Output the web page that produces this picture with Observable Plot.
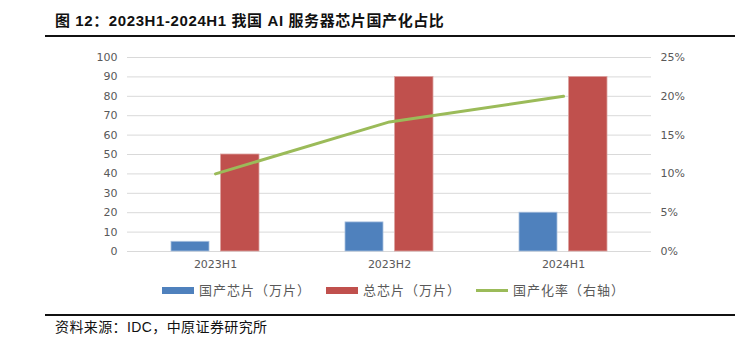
<!DOCTYPE html>
<html><head><meta charset="utf-8">
<script src="https://cdn.jsdelivr.net/npm/d3@7"></script>
<script src="https://cdn.jsdelivr.net/npm/@observablehq/plot@0.6"></script>
<style>
body{margin:0;background:#fff;}
#wrap{position:relative;width:751px;height:347px;overflow:hidden;font-family:"Liberation Sans","Noto Sans CJK SC",sans-serif;background:#fff;}
#title{position:absolute;left:55px;top:11px;font-size:15px;line-height:20px;font-weight:bold;color:#111;white-space:nowrap;letter-spacing:0.6px;}
.hr{position:absolute;left:45px;width:690px;height:2px;background:#111;}
#chart{position:absolute;left:0;top:40px;}
#legend{position:absolute;left:162px;top:281px;display:flex;gap:15px;align-items:center;font-family:"Noto Sans CJK SC",sans-serif;font-size:13px;line-height:18px;color:#595959;white-space:nowrap;letter-spacing:1px;}
.item{display:flex;align-items:center;gap:5px;}
#source{position:absolute;left:55px;top:318px;font-size:14px;line-height:18px;color:#111;white-space:nowrap;letter-spacing:0.4px;}
</style></head><body>
<div id="wrap">
  <div id="title">图 12：2023H1-2024H1 我国 AI 服务器芯片国产化占比</div>
  <div class="hr" style="top:35px"></div>
  <div id="chart"></div>
  <div id="legend"></div>
  <div class="hr" style="top:314px"></div>
  <div id="source">资料来源：IDC，中原证券研究所</div>
</div>
<script>
const categories = ["2023H1", "2023H2", "2024H1"];
const domestic = [5, 15, 20];        // 国产芯片（万片）
const total = [50, 90, 90];          // 总芯片（万片）
const ratio = [10, 16.7, 20];        // 国产化率（%）右轴
const leftTicks = [0, 10, 20, 30, 40, 50, 60, 70, 80, 90, 100];
const rightTicks = [0, 5, 10, 15, 20, 25];
const seriesNames = ["国产芯片（万片）", "总芯片（万片）", "国产化率（右轴）"];
const seriesColors = ["#4f81bd", "#c0504d", "#9bbb59"];

const rightMax = 25, leftMax = 100, k = leftMax / rightMax;
const barsA = categories.map((c, i) => ({cat: c, v: domestic[i]}));
const barsB = categories.map((c, i) => ({cat: c, v: total[i]}));
const linePts = categories.map((c, i) => ({cat: c, v: ratio[i] * k}));

const gray = "#595959";
const chart = Plot.plot({
  width: 751, height: 230,
  marginLeft: 127, marginRight: 100, marginTop: 17, marginBottom: 19,
  style: {fontFamily: "DejaVu Sans, sans-serif", fontSize: "11px", color: gray, background: "transparent"},
  x: {type: "band", domain: categories, padding: 0, label: null},
  y: {domain: [0, leftMax], label: null},
  marks: [
    Plot.ruleY(leftTicks, {stroke: "#d9d9d9", strokeWidth: 1}),
    Plot.barY(barsA, {x: "cat", y: "v", fill: seriesColors[0], stroke: "#a9c0df", strokeWidth: 0.8, insetLeft: 43, insetRight: 93}),
    Plot.barY(barsB, {x: "cat", y: "v", fill: seriesColors[1], stroke: "#dca3a1", strokeWidth: 0.8, insetLeft: 92.5, insetRight: 43}),
    Plot.line(linePts, {x: "cat", y: "v", stroke: seriesColors[2], strokeWidth: 3, strokeLinecap: "round"}),
    Plot.axisX({tickSize: 0, tickPadding: 9, label: null, fill: gray}),
    Plot.axisY({anchor: "left", ticks: leftTicks, tickSize: 0, tickPadding: 10, label: null, fill: gray}),
    Plot.axisY({anchor: "right", ticks: rightTicks.map(t => t * k), tickFormat: d => (d / k) + "%", tickSize: 0, tickPadding: 9, label: null, fill: gray})
  ]
});
document.getElementById("chart").appendChild(chart);

const legend = document.getElementById("legend");
seriesNames.forEach((name, i) => {
  const item = document.createElement("div");
  item.className = "item";
  const sw = document.createElement("span");
  sw.style.display = "inline-block";
  sw.style.width = "32px";
  sw.style.height = i < 2 ? "7px" : "3px";
  sw.style.background = seriesColors[i];
  const tx = document.createElement("span");
  tx.textContent = name;
  item.appendChild(sw); item.appendChild(tx);
  legend.appendChild(item);
});
</script>
</body></html>
